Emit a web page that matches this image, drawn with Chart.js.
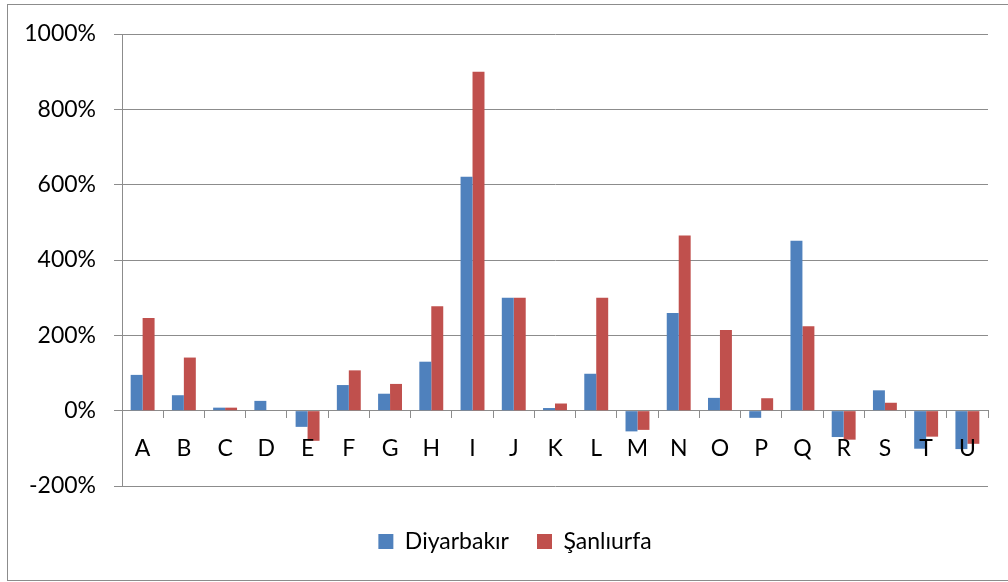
<!DOCTYPE html>
<html>
<head>
<meta charset="utf-8">
<script src="https://cdn.jsdelivr.net/npm/chart.js@4"></script>
<style>
  body { margin: 0; background: #fff; overflow: hidden; }
  #frame { position: absolute; left: 7px; top: 4px; width: 1010px; height: 575px; border: 1px solid #8c8c8c; }
  #wrap { position: absolute; left: 0; top: 0; width: 1008px; height: 582px; }
</style>
</head>
<body>
<div id="frame"></div>
<div id="wrap"><canvas id="chart" width="1008" height="582"></canvas></div>
<script>
// categories + series (percent change)
const categories = ["A","B","C","D","E","F","G","H","I","J","K","L","M","N","O","P","Q","R","S","T","U"];
const diyarbakir = [95, 41, 8, 26, -43, 68, 45, 130, 621, 300, 7, 98, -55, 259, 34, -19, 451, -70, 54, -101, -102];
const sanliurfa  = [246, 141, 8, 0, -80, 107, 71, 277, 900, 300, 19, 300, -51, 465, 214, 33, 224, -77, 21, -69, -88];
const yTicks = [-200, 0, 200, 400, 600, 800, 1000];

const gridGray = "#8c8c8c";
const fontFam = "Lato, 'Open Sans', sans-serif";

// the original legend is centred a bit right of the canvas middle
const legendShift = {
    id: "legendShift",
    afterLayout(chart) { chart.legend.left += 42; }
};

new Chart(document.getElementById("chart"), {
    type: "bar",
    data: {
        labels: categories,
        datasets: [
            { label: "Diyarbakır", data: diyarbakir, backgroundColor: "#4F81BD" },
            { label: "Şanlıurfa", data: sanliurfa, backgroundColor: "#C0504D" }
        ]
    },
    options: {
        responsive: false,
        animation: false,
        layout: { padding: { top: 34, right: 20, bottom: 19, left: 0 } },
        datasets: { bar: { categoryPercentage: 0.58, barPercentage: 1 } },
        plugins: {
            tooltip: { enabled: false },
            legend: {
                position: "bottom",
                labels: {
                    boxWidth: 15, boxHeight: 15, padding: 28,
                    color: "#000", font: { family: fontFam, size: 23 }
                }
            }
        },
        scales: {
            x: {
                position: { y: 0 },
                grid: { drawOnChartArea: false, drawTicks: true, tickLength: 7, offset: true, color: gridGray },
                border: { color: gridGray },
                ticks: { z: 1, color: "#000", padding: 17, font: { family: fontFam, size: 23 } }
            },
            x2: {
                type: "category",
                labels: [""],
                position: "bottom",
                grid: { display: false },
                border: { display: false },
                ticks: { display: false },
                afterFit: s => { s.height = 16; }
            },
            y: {
                min: yTicks[0],
                max: yTicks[yTicks.length - 1],
                afterBuildTicks: s => { s.ticks = yTicks.map(v => ({ value: v })); },
                afterFit: s => { s.width = 122; },
                grid: { color: gridGray, tickLength: 8 },
                border: { color: gridGray },
                ticks: {
                    color: "#000", padding: 18,
                    font: { family: fontFam, size: 23 },
                    callback: v => v + "%"
                }
            }
        }
    },
    plugins: [legendShift]
});
</script>
</body>
</html>
